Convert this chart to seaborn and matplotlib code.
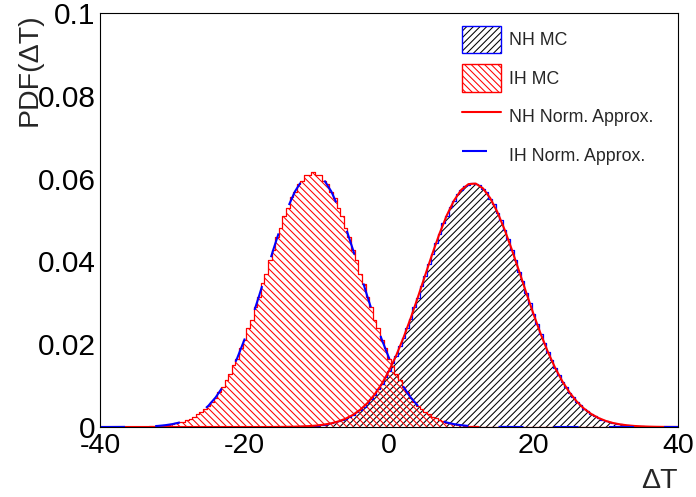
import numpy as np
import matplotlib
matplotlib.use("Agg")
import matplotlib.pyplot as plt
import seaborn as sns
from matplotlib.patches import Patch
from matplotlib.lines import Line2D
from matplotlib.ticker import MultipleLocator, FuncFormatter

# ---------------- data ----------------
# normal approximations, sampled at integer ΔT from -40 to 40
grid_x = list(range(-40, 41))

nh_norm = [0.0, 0.0, 0.0, 0.0, 0.0, 0.0, 0.0, 0.0, 0.0, 0.0,
           0.0, 0.0, 0.0, 0.0, 0.0, 0.0, 0.0, 0.0, 0.0, 0.0,
           0.0, 0.0, 0.0, 0.0,
           0.00001, 0.00003, 0.00005, 0.00008, 0.00014, 0.00022, 0.00036,
           0.00058, 0.00089, 0.00135, 0.00201, 0.00291, 0.00414, 0.00576,
           0.00783, 0.01042, 0.01357, 0.01729, 0.02156, 0.02629, 0.03137,
           0.03662, 0.04184, 0.04676, 0.05113, 0.05471, 0.05728, 0.05867,
           0.05880, 0.05765, 0.05531, 0.05192, 0.04768, 0.04285, 0.03768,
           0.03241, 0.02728, 0.02247, 0.01810, 0.01427, 0.01101, 0.00831,
           0.00613, 0.00443, 0.00313, 0.00217, 0.00147, 0.00097, 0.00063,
           0.00040, 0.00025, 0.00015, 0.00009, 0.00005, 0.00003, 0.00002,
           0.00001]

ih_norm = [0.0, 0.0, 0.00001, 0.00002, 0.00003, 0.00005, 0.00009, 0.00016,
           0.00026, 0.00043, 0.00069, 0.00108, 0.00165, 0.00247, 0.00360,
           0.00513, 0.00714, 0.00970, 0.01288, 0.01669, 0.02114, 0.02614,
           0.03157, 0.03724, 0.04290, 0.04827, 0.05305, 0.05694, 0.05969,
           0.06112, 0.06112, 0.05969, 0.05694, 0.05305, 0.04827, 0.04290,
           0.03724, 0.03157, 0.02614, 0.02114, 0.01669, 0.01288, 0.00970,
           0.00714, 0.00513, 0.00360, 0.00247, 0.00165, 0.00108, 0.00069,
           0.00043, 0.00026, 0.00016, 0.00009, 0.00005, 0.00003, 0.00002,
           0.00001,
           0.0, 0.0, 0.0, 0.0, 0.0, 0.0, 0.0, 0.0, 0.0, 0.0,
           0.0, 0.0, 0.0, 0.0, 0.0, 0.0, 0.0, 0.0, 0.0, 0.0,
           0.0, 0.0, 0.0]

# MC histograms: bins of width 0.5, centred at -39.5, -39.0, ..., 39.5
bin_centers = np.arange(-39.5, 39.75, 0.5)

nh_mc = [0.0, 0.0, 0.0, 0.0, 0.0, 0.0, 0.0, 0.0, 0.0, 0.0,
         0.0, 0.0, 0.0, 0.0, 0.0, 0.0, 0.0, 0.0, 0.0, 0.0,
         0.0, 0.0, 0.0, 0.0, 0.0, 0.0, 0.0, 0.0, 0.0, 0.0,
         0.0, 0.0, 0.0, 0.0, 0.0, 0.0, 0.0, 0.0, 0.0, 0.0,
         0.0, 0.0, 0.0, 0.0, 0.0, 0.0, 0.00001, 0.00001, 0.00002, 0.00003,
         0.00004, 0.00005, 0.00007, 0.00008, 0.00011, 0.00013, 0.00019, 0.00022, 0.00030, 0.00035,
         0.00047, 0.00057, 0.00074, 0.00087, 0.00112, 0.00133, 0.00168, 0.00198, 0.00247, 0.00288,
         0.00352, 0.00410, 0.00495, 0.00571, 0.00679, 0.00777, 0.00913, 0.01035, 0.01202, 0.01348,
         0.01545, 0.01720, 0.01946, 0.02145, 0.02398, 0.02618, 0.02890, 0.03125, 0.03410, 0.03650,
         0.03938, 0.04170, 0.04448, 0.04665, 0.04918, 0.05100, 0.05318, 0.05460, 0.05628, 0.05715,
         0.05828, 0.05855, 0.05905, 0.05868, 0.05852, 0.05752, 0.05677, 0.05518, 0.05388, 0.05180,
         0.05002, 0.04755, 0.04546, 0.04272, 0.04041, 0.03755, 0.03516, 0.03230, 0.02992, 0.02718,
         0.02491, 0.02238, 0.02030, 0.01802, 0.01618, 0.01420, 0.01262, 0.01095, 0.00964, 0.00827,
         0.00720, 0.00610, 0.00526, 0.00440, 0.00376, 0.00311, 0.00263, 0.00215, 0.00180, 0.00146,
         0.00121, 0.00096, 0.00079, 0.00062, 0.00051, 0.00039, 0.00032, 0.00024, 0.00019, 0.00015,
         0.00012, 0.00009, 0.00007, 0.00005, 0.00004, 0.00003, 0.00002, 0.00002, 0.00001]

ih_mc = [0.0, 0.0, 0.00001, 0.00001, 0.00001, 0.00002, 0.00002, 0.00003, 0.00004, 0.00005,
         0.00007, 0.00010, 0.00012, 0.00015, 0.00021, 0.00025, 0.00035, 0.00044, 0.00054, 0.00071,
         0.00085, 0.00110, 0.00131, 0.00168, 0.00199, 0.00251, 0.00305, 0.00355, 0.00437, 0.00506,
         0.00615, 0.00705, 0.00846, 0.00958, 0.01135, 0.01272, 0.01488, 0.01652, 0.01905, 0.02090,
         0.02385, 0.02590, 0.02910, 0.03130, 0.03470, 0.03700, 0.04040, 0.04265, 0.04595, 0.04800,
         0.05100, 0.05280, 0.05545, 0.05670, 0.05880, 0.05945, 0.06085, 0.06090, 0.06165, 0.06085,
         0.06080, 0.05940, 0.05870, 0.05670, 0.05540, 0.05280, 0.05100, 0.04800, 0.04590, 0.04265,
         0.04035, 0.03700, 0.03465, 0.03130, 0.02905, 0.02590, 0.02380, 0.02090, 0.01905, 0.01650,
         0.01485, 0.01270, 0.01135, 0.00955, 0.00845, 0.00705, 0.00615, 0.00505, 0.00437, 0.00355,
         0.00303, 0.00243, 0.00206, 0.00162, 0.00136, 0.00106, 0.00088, 0.00068, 0.00056, 0.00042,
         0.00035, 0.00025, 0.00021, 0.00015, 0.00012, 0.00009, 0.00007, 0.00005, 0.00004, 0.00003,
         0.00002, 0.00002, 0.00001, 0.00001, 0.00001, 0.0, 0.0, 0.0, 0.0, 0.0,
         0.0, 0.0, 0.0, 0.0, 0.0, 0.0, 0.0, 0.0, 0.0, 0.0,
         0.0, 0.0, 0.0, 0.0, 0.0, 0.0, 0.0, 0.0, 0.0, 0.0,
         0.0, 0.0, 0.0, 0.0, 0.0, 0.0, 0.0, 0.0, 0.0, 0.0,
         0.0, 0.0, 0.0, 0.0, 0.0, 0.0, 0.0, 0.0, 0.0]

x_ticks = [-40, -20, 0, 20, 40]
y_ticks = [0.0, 0.02, 0.04, 0.06, 0.08, 0.1]
legend_labels = ["NH MC", "IH MC", "NH Norm. Approx.", "IH Norm. Approx."]
x_title = "ΔT"
y_title = "PDF(ΔT)"

# ---------------- style ----------------
sns.set_style("white")
plt.rcParams["font.family"] = ["Liberation Sans", "DejaVu Sans"]
plt.rcParams["axes.unicode_minus"] = False
plt.rcParams["hatch.linewidth"] = 0.75
plt.rcParams["axes.edgecolor"] = "black"
plt.rcParams["axes.linewidth"] = 0.8

fig = plt.figure(figsize=(6.96, 4.97), dpi=100)
ax = fig.add_axes([100 / 696, 1 - 427 / 497, 578 / 696, 414 / 497])

hist_kw = dict(binwidth=0.5, binrange=(-39.75, 39.75), element="step", ax=ax)

# hatched fills
sns.histplot(x=bin_centers, weights=nh_mc, fill=True, color="black",
             facecolor="none", edgecolor="black", hatch="/" * 5, linewidth=0,
             **hist_kw)
sns.histplot(x=bin_centers, weights=ih_mc, fill=True, color="red",
             facecolor="none", edgecolor="red", hatch="\\" * 5, linewidth=0,
             **hist_kw)
# outlines
sns.histplot(x=bin_centers, weights=nh_mc, fill=False, color="blue",
             linewidth=0.9, **hist_kw)
sns.histplot(x=bin_centers, weights=ih_mc, fill=False, color="red",
             linewidth=0.9, **hist_kw)
# normal approximations
sns.lineplot(x=grid_x, y=nh_norm, color="red", linewidth=1.5, ax=ax)
sns.lineplot(x=grid_x, y=ih_norm, color="blue", linewidth=1.5,
             linestyle=(0, (12, 14.5)), ax=ax)

ax.set_xlim(-40, 40)
ax.set_ylim(0, 0.1)
ax.set_xticks(x_ticks)
ax.set_yticks(y_ticks)
ax.xaxis.set_minor_locator(MultipleLocator(5))
ax.yaxis.set_minor_locator(MultipleLocator(0.005))
ax.xaxis.set_major_formatter(FuncFormatter(lambda v, p: f"{v:g}"))
ax.yaxis.set_major_formatter(FuncFormatter(lambda v, p: f"{v:g}"))

ax.tick_params(axis="x", which="major", direction="in", length=9, width=0.75,
               labelsize=20.5, pad=4, top=False, colors="black")
ax.tick_params(axis="x", which="minor", direction="in", length=4.5, width=0.75,
               top=False)
ax.tick_params(axis="y", which="major", direction="in", length=12.5, width=0.75,
               labelsize=21.5, pad=3, right=False, colors="black")
ax.tick_params(axis="y", which="minor", direction="in", length=6.3, width=0.75,
               right=False)
for s in ax.spines.values():
    s.set_visible(True)
    s.set_color("black")
    s.set_linewidth(0.8)

ax.set_xlabel(x_title, loc="right", fontsize=20.5)
ax.xaxis.set_label_coords(1.0, -0.098)
ax.set_ylabel(y_title, loc="top", fontsize=20.5)
ax.yaxis.set_label_coords(-0.10, 1.0)

handles = [
    (Patch(facecolor="none", edgecolor="black", hatch="/" * 5, linewidth=0),
     Patch(facecolor="none", edgecolor="blue", linewidth=1.0)),
    Patch(facecolor="none", edgecolor="red", hatch="\\" * 5, linewidth=1.0),
    Line2D([], [], color="red", linewidth=1.5),
    Line2D([], [], color="blue", linewidth=1.5, linestyle=(0, (12, 14.5))),
]
ax.legend(handles, legend_labels, loc="upper left",
          bbox_to_anchor=(462 / 696, 1 - 25.5 / 497),
          bbox_transform=fig.transFigure, frameon=False, fontsize=12.8,
          handlelength=2.2, handleheight=2.04, handletextpad=0.45,
          labelspacing=0.6, borderpad=0, borderaxespad=0)

fig.savefig("out.png", dpi=100)
